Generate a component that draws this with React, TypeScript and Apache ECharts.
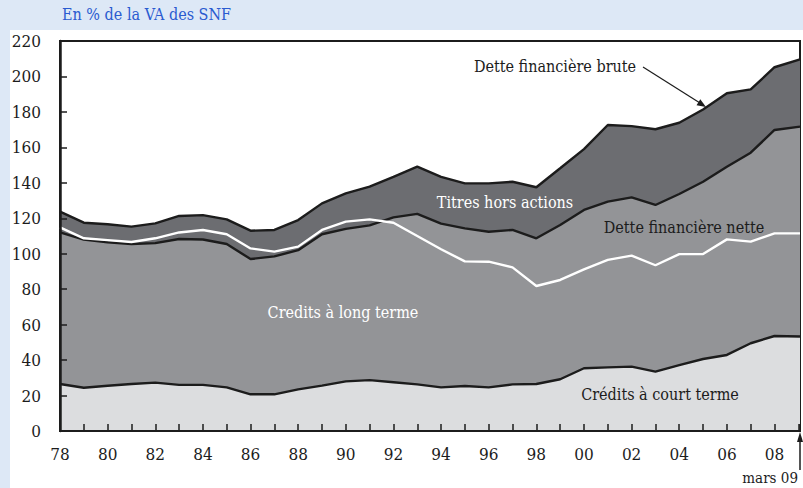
import React, { useEffect, useRef } from 'react';
import * as echarts from 'echarts';

// x positions: yearly points 1978..2008, then "mars 09"
const periods = [
  1978, 1979, 1980, 1981, 1982, 1983, 1984, 1985, 1986, 1987, 1988, 1989, 1990, 1991, 1992, 1993,
  1994, 1995, 1996, 1997, 1998, 1999, 2000, 2001, 2002, 2003, 2004, 2005, 2006, 2007, 2008, 2009.07,
];
const creditsCourtTerme = [
  26.5, 24.4, 25.5, 26.5, 27.3, 26, 26, 24.6, 20.7, 20.7, 23.5, 25.6, 28, 28.7, 27.5, 26.3,
  24.6, 25.4, 24.6, 26.3, 26.5, 29.2, 35.4, 35.9, 36.3, 33.5, 37.2, 40.6, 42.9, 49.5, 53.6, 53.3,
];
const creditsLongTerme = [
  85.5, 83.6, 81, 79, 78.7, 82.3, 82, 80.9, 76.3, 77.8, 78.5, 85.4, 86, 87.3, 93, 96.2,
  92.4, 88.9, 87.8, 87.1, 82.2, 87, 89.3, 93.5, 95.5, 94, 96.5, 100, 106.2, 107.5, 116.2, 118.4,
];
const titresHorsActions = [
  11.7, 9.5, 10.1, 9.8, 11.1, 13, 13.8, 13.9, 16, 14.9, 17, 17.4, 20, 21.8, 22.9, 26.6,
  26.4, 25.4, 27.3, 27.2, 28.8, 32, 34.3, 43.2, 40.2, 42.7, 40.2, 40.8, 41.4, 35.7, 35.4, 37.9,
];
const detteFinanciereNette = [
  114.9, 108.7, 107.7, 106.6, 108.7, 112, 113.4, 111, 103, 101.2, 104, 113.4, 118.1, 119.4, 117.5, 110,
  102.5, 95.7, 95.5, 92.3, 81.8, 85.2, 91.2, 96.5, 98.9, 93.5, 99.8, 99.8, 108.1, 106.8, 111.5, 111.5,
];

const FONT = 'DejaVu Serif Condensed, DejaVu Serif';
const DARK = '#1c1c1c';

export default function App() {
  const ref = useRef<HTMLDivElement>(null);
  useEffect(() => {
    const chart = echarts.init(ref.current!, null, { renderer: 'svg' });
    // cumulative levels of the stack (built from the component arrays)
    const levelCourt = creditsCourtTerme.map((v, i) => [periods[i], v]);
    const levelLong = creditsLongTerme.map((v, i) => [periods[i], creditsCourtTerme[i] + v]);
    const levelBrute = titresHorsActions.map((v, i) => [
      periods[i],
      creditsCourtTerme[i] + creditsLongTerme[i] + v,
    ]);
    const layer = (name: string, data: number[][], color: string, z: number) => ({
      name,
      type: 'line',
      data,
      showSymbol: false,
      lineStyle: { width: 2.4, color: DARK },
      areaStyle: { color, opacity: 1, origin: 'start' },
      z,
    });
    chart.setOption({
      animation: false,
      grid: { left: 60, top: 41, right: 2, bottom: 57, show: true, borderColor: DARK, borderWidth: 2, backgroundColor: 'transparent' },
      xAxis: {
        type: 'value',
        min: 1978,
        max: 2009.07,
        interval: 1,
        axisLine: { lineStyle: { color: DARK, width: 2 } },
        axisTick: { inside: true, length: 7, lineStyle: { color: DARK, width: 1.5 } },
        splitLine: { show: false },
        z: 6,
        axisLabel: {
          fontFamily: FONT,
          fontSize: 17,
          color: DARK,
          margin: 14,
          formatter: (v: number) => (v % 2 === 0 && v <= 2008 ? String(v).slice(2) : ''),
        },
      },
      yAxis: {
        type: 'value',
        min: 0,
        max: 220,
        interval: 20,
        z: 6,
        axisLine: { show: true, lineStyle: { color: DARK, width: 2.5 } },
        axisTick: { show: true, inside: true, length: 7, lineStyle: { color: DARK, width: 1.5 } },
        splitLine: { show: false },
        axisLabel: { fontFamily: FONT, fontSize: 17, color: DARK, margin: 19 },
      },
      series: [
        layer('Titres hors actions', levelBrute, '#6c6d71', 1),
        layer('Crédits à long terme', levelLong, '#939497', 2),
        layer('Crédits à court terme', levelCourt, '#dcdddf', 3),
        {
          name: 'Dette financière nette',
          type: 'line',
          data: detteFinanciereNette.map((v, i) => [periods[i], v]),
          showSymbol: false,
          lineStyle: { width: 2.4, color: '#ffffff' },
          z: 5,
        },
      ],
      graphic: [
        { type: 'text', left: 62, top: 6, style: { text: 'En % de la VA des SNF', fontFamily: FONT, fontSize: 16, fill: '#2a5bd0' } },
        { type: 'text', x: 555, y: 66, style: { text: 'Dette financière brute', fontFamily: FONT, fontSize: 16, fill: DARK, align: 'center', verticalAlign: 'middle' }, z: 10 },
        { type: 'line', shape: { x1: 643, y1: 67, x2: 700, y2: 103 }, style: { stroke: DARK, lineWidth: 1.2 }, z: 10 },
        { type: 'polygon', shape: { points: [[706, 107], [696.5, 105.2], [700.3, 99.2]] }, style: { fill: DARK }, z: 10 },
        { type: 'text', x: 505, y: 202, style: { text: 'Titres hors actions', fontFamily: FONT, fontSize: 16, fill: '#ffffff', align: 'center', verticalAlign: 'middle' }, z: 10 },
        { type: 'text', x: 684, y: 227, style: { text: 'Dette financière nette', fontFamily: FONT, fontSize: 16, fill: DARK, align: 'center', verticalAlign: 'middle' }, z: 10 },
        { type: 'text', x: 343, y: 312, style: { text: 'Credits à long terme', fontFamily: FONT, fontSize: 16, fill: '#ffffff', align: 'center', verticalAlign: 'middle' }, z: 10 },
        { type: 'text', x: 660, y: 394, style: { text: 'Crédits à court terme', fontFamily: FONT, fontSize: 16, fill: DARK, align: 'center', verticalAlign: 'middle' }, z: 10 },
        { type: 'text', x: 798, y: 478, style: { text: 'mars 09', fontFamily: FONT, fontSize: 15, fill: DARK, align: 'right', verticalAlign: 'middle' }, z: 10 },
        { type: 'line', shape: { x1: 800, y1: 470, x2: 800, y2: 440 }, style: { stroke: DARK, lineWidth: 1.5 }, z: 10 },
        { type: 'polygon', shape: { points: [[800, 432], [797, 442], [803, 442]] }, style: { fill: DARK }, z: 10 },
      ],
    });
    return () => chart.dispose();
  }, []);
  return (
    <div style={{ position: 'absolute', left: 0, top: 0, width: 803, height: 488, background: '#dde8f6', overflow: 'hidden' }}>
      <div style={{ position: 'absolute', left: 10, top: 30, right: 0, bottom: 0, background: '#ffffff' }} />
      <div ref={ref} style={{ position: 'absolute', left: 0, top: 0, width: 803, height: 488 }} />
    </div>
  );
}
